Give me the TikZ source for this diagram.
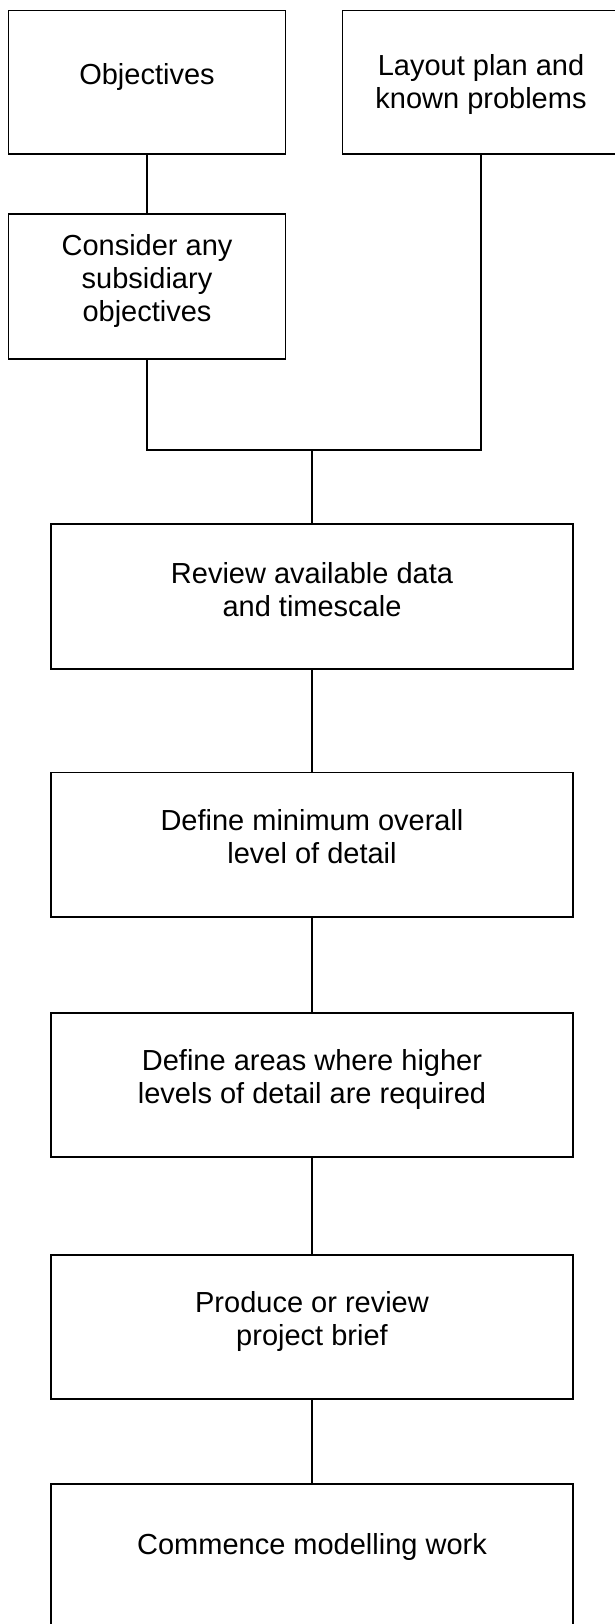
\documentclass[tikz,border=0pt]{standalone}
\usepackage{fontspec}
\setmainfont{Liberation Sans}
\begin{document}
\begin{tikzpicture}[x=1pt,y=-1pt,
  box/.style={draw=black, line width=1.6pt, rectangle, inner sep=0pt, fill=none},
  lbl/.style={font={\fontsize{29pt}{33pt}\selectfont}, align=center, anchor=north, inner sep=0pt},
  link/.style={draw=black, line width=1.6pt}]
\useasboundingbox (0,0) rectangle (615,1624);
% boxes
\node[box, minimum width=277pt, minimum height=143.5pt] (obj) at (147,82.25) {};
\node[box, minimum width=277pt, minimum height=143.5pt] (lay) at (481,82.25) {};
\node[box, minimum width=277pt, minimum height=145pt] (con) at (147,286.5) {};
\node[box, minimum width=522pt, minimum height=145pt] (rev) at (312,596.5) {};
\node[box, minimum width=522pt, minimum height=144.5pt] (def1) at (312,844.8) {};
\node[box, minimum width=522pt, minimum height=144pt] (def2) at (312,1085) {};
\node[box, minimum width=522pt, minimum height=144pt] (pro) at (312,1327) {};
\node[box, minimum width=522pt, minimum height=146pt] (com) at (312,1557) {};
% texts
\node[lbl] (tobj) at (147,63) {Objectives};
\node[lbl] (tlay) at (481,54.5) {Layout plan and\\known problems};
\node[lbl] (tcon) at (147,234.5) {Consider any\\subsidiary\\objectives};
\node[lbl] (trev) at (312,562) {Review available data\\and timescale};
\node[lbl] (tdef1) at (312,809) {Define minimum overall\\level of detail};
\node[lbl] (tdef2) at (312,1049.7) {Define areas where higher\\levels of detail are required};
\node[lbl] (tpro) at (312,1291.7) {Produce or review\\project brief};
\node[lbl] (tcom) at (312,1533) {Commence modelling work};
% connectors
\coordinate (jl) at (147,450);
\coordinate (jr) at (481,450);
\coordinate (jc) at (312,450);
\draw[link] (obj.south) -- (con.north);
\draw[link] (con.south) -- (jl) -- (jr) -- (lay.south);
\draw[link] (jc) -- (rev.north);
\draw[link] (rev.south) -- (def1.north);
\draw[link] (def1.south) -- (def2.north);
\draw[link] (def2.south) -- (pro.north);
\draw[link] (pro.south) -- (com.north);
\end{tikzpicture}
\end{document}
